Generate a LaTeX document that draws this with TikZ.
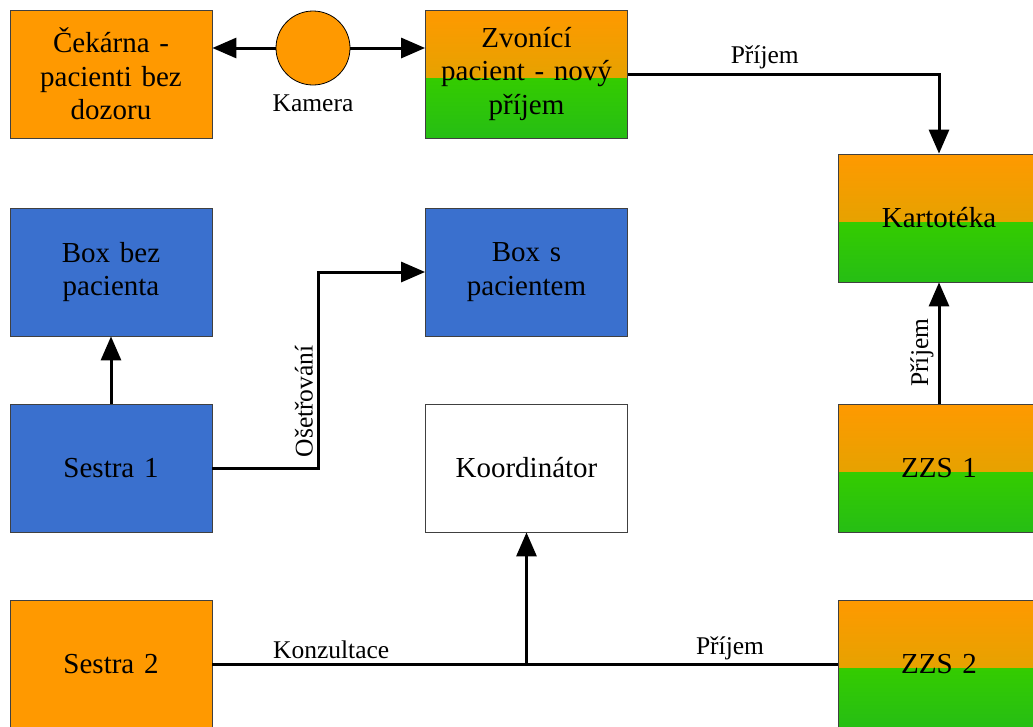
\documentclass[tikz,border=0pt]{standalone}
\usepackage{fontspec}
\setmainfont{Liberation Serif}
\usetikzlibrary{arrows.meta,calc}
\definecolor{orng}{RGB}{255,153,0}
\definecolor{orngM}{RGB}{208,170,0}
\definecolor{grnT}{RGB}{52,204,0}
\definecolor{grnB}{RGB}{38,190,20}
\definecolor{blu}{RGB}{58,112,206}
\begin{document}
\begin{tikzpicture}[x=1pt,y=-1pt,
  box/.style={draw=black!75, line width=0.8pt, minimum width=202pt, minimum height=128pt,
    inner sep=0pt, align=center, text width=198pt, font=\fontsize{29}{33.5}\selectfont},
  orangebox/.style={box, fill=orng},
  bluebox/.style={box, fill=blu},
  whitebox/.style={box, fill=white},
  gradbox/.style={box, path picture={
    \fill[top color=orng, bottom color=orngM] (path picture bounding box.north west) -- (path picture bounding box.north east) -- ([yshift=-4pt]path picture bounding box.east) -- ([yshift=-4pt]path picture bounding box.west) -- cycle;
    \fill[top color=grnT, bottom color=grnB] ([yshift=-4pt]path picture bounding box.west) rectangle (path picture bounding box.south east);}},
  conn/.style={line width=3pt},
  arr/.style={conn, -{Triangle[length=24pt,width=20pt]}},
  lbl/.style={font=\fontsize{25.5}{30}\selectfont, inner sep=4pt}
]
\useasboundingbox (0,0) rectangle (1033,726);
\clip (0,0) rectangle (1033,726);
\fill[white] (0,0) rectangle (1033,726);

\node[orangebox] (cek) at (111,74) {Čekárna -\\pacienti bez\\dozoru};
\node[draw=black, line width=0.8pt, fill=orng, circle, minimum size=74pt, inner sep=0pt] (cam) at (313,48) {};
\node[lbl] (camlbl) at (313,103) {Kamera};
\node[gradbox] (zvo) at (526.5,74) {Zvonící\\pacient - nový\\příjem};
\node[gradbox] (kar) at (939,218) {Kartotéka};
\node[bluebox] (bez) at (111,272) {Box bez\\pacienta};
\node[bluebox] (bsp) at (526.5,272) {Box s\\pacientem};
\node[bluebox] (s1) at (111,468) {Sestra 1};
\node[whitebox] (koo) at (526.5,468) {Koordinátor};
\node[gradbox] (z1) at (939,468) {ZZS 1};
\node[orangebox] (s2) at (111,664) {Sestra 2};
\node[gradbox] (z2) at (939,664) {ZZS 2};

\draw[arr] (cam.west) -- (cam.west -| cek.east);
\draw[arr] (cam.east) -- (cam.east -| zvo.west);
\draw[arr] (zvo.east) -| node[lbl, pos=0.22, above] {Příjem} (kar.north);
\draw[arr] (s1.north) -- (bez.south);
\draw[arr] (s1.east) -- ++(106,0) |- node[lbl, pos=0.17, rotate=90, above] {Ošetřování} (bsp.west);
\draw[arr] (z1.north) -- node[lbl, pos=0.42, rotate=90, above] {Příjem} (kar.south);
\draw[conn] (s2.east) -- node[lbl, pos=0.19, above] {Konzultace} (z2.west);
\node[lbl] at (730,648) {Příjem};
\coordinate (junc) at (s2.east -| koo.south);
\draw[arr] (junc) -- (koo.south);
\end{tikzpicture}
\end{document}
